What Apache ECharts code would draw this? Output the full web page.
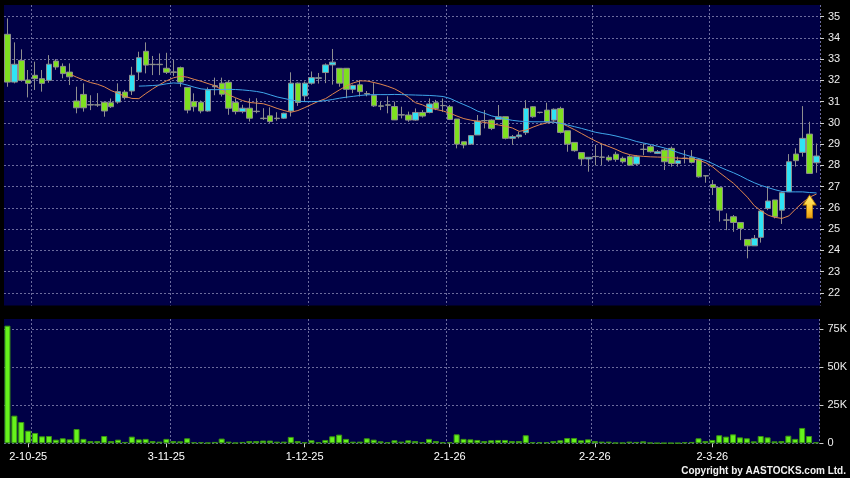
<!DOCTYPE html>
<html><head><meta charset="utf-8">
<script src="https://cdn.jsdelivr.net/npm/echarts@6/dist/echarts.min.js"></script>
<style>html,body{margin:0;padding:0;background:#000;}#c{width:850px;height:478px;}</style>
</head><body><div id="c"></div>
<script>
const dates = ['26-9-25','29-9-25','30-9-25',
'2-10-25','3-10-25','6-10-25','8-10-25','9-10-25','10-10-25','13-10-25','14-10-25','15-10-25','16-10-25','17-10-25','20-10-25','21-10-25','22-10-25','23-10-25','24-10-25','27-10-25','28-10-25','30-10-25','31-10-25',
'3-11-25','4-11-25','5-11-25','6-11-25','7-11-25','10-11-25','11-11-25','12-11-25','13-11-25','14-11-25','17-11-25','18-11-25','19-11-25','20-11-25','21-11-25','24-11-25','25-11-25','26-11-25','27-11-25','28-11-25',
'1-12-25','2-12-25','3-12-25','4-12-25','5-12-25','8-12-25','9-12-25','10-12-25','11-12-25','12-12-25','15-12-25','16-12-25','17-12-25','18-12-25','19-12-25','22-12-25','23-12-25','24-12-25','29-12-25','30-12-25','31-12-25',
'2-1-26','5-1-26','6-1-26','7-1-26','8-1-26','9-1-26','12-1-26','13-1-26','14-1-26','15-1-26','16-1-26','19-1-26','20-1-26','21-1-26','22-1-26','23-1-26','26-1-26','27-1-26','28-1-26','29-1-26','30-1-26',
'2-2-26','3-2-26','4-2-26','5-2-26','6-2-26','9-2-26','10-2-26','11-2-26','12-2-26','13-2-26','16-2-26','20-2-26','23-2-26','24-2-26','25-2-26','26-2-26','27-2-26',
'2-3-26','3-3-26','4-3-26','5-3-26','6-3-26','9-3-26','10-3-26','11-3-26','12-3-26','13-3-26','16-3-26','17-3-26','18-3-26','19-3-26','20-3-26','23-3-26'];

const tickLabels = ['2-10-25','3-11-25','1-12-25','2-1-26','2-2-26','2-3-26'];
const gridLineDates = ['3-10-25','4-11-25','2-12-25','2-1-26','2-2-26','2-3-26'];
const priceTicks = [22,23,24,25,26,27,28,29,30,31,32,33,34,35];
const volTicks = [0,25,50,75];

const opens = [34.17,31.92,32.94,32.02,32.24,32.08,32.00,32.91,32.66,32.39,
31.03,31.34,30.86,30.85,30.97,30.95,30.98,31.45,31.50,32.39,
33.37,32.76,32.76,32.57,32.40,32.60,31.67,31.00,30.97,30.56,
31.70,31.87,31.91,30.96,30.53,30.69,30.55,30.22,30.33,30.22,
30.22,30.56,31.87,31.27,31.87,32.10,32.37,32.73,32.57,32.57,
31.58,31.79,31.38,31.29,30.80,30.85,30.77,30.38,30.37,30.13,
30.49,30.49,30.95,30.82,30.76,30.18,29.11,29.00,29.43,30.11,
30.13,30.16,30.29,29.27,29.35,29.54,30.76,30.50,30.60,30.13,
30.68,29.63,29.08,28.60,28.30,28.42,28.39,28.38,28.52,28.33,
28.41,28.06,28.76,28.88,28.56,28.72,28.80,28.09,28.34,28.38,
28.28,27.51,27.10,26.96,25.43,25.58,25.31,24.51,24.21,24.61,
25.97,26.37,25.89,26.76,28.53,28.61,29.47,28.12];

const closes = [31.92,32.76,32.00,31.86,32.08,31.86,32.76,32.63,32.32,32.17,
30.71,30.71,30.84,30.84,30.56,30.76,31.47,31.19,32.24,33.07,
32.72,32.74,32.74,32.38,32.38,31.92,30.60,30.76,30.56,31.55,
31.75,31.35,30.69,30.53,30.69,30.22,30.53,30.20,30.06,30.20,
30.45,31.87,30.96,31.87,32.13,32.12,32.73,32.86,31.87,31.58,
31.76,31.47,31.36,30.80,30.78,30.83,30.14,30.37,30.13,30.49,
30.32,30.89,30.68,30.81,30.16,29.00,28.96,29.40,30.09,30.10,
29.74,30.29,29.27,29.35,29.43,30.68,30.29,30.49,30.05,30.64,
29.55,29.00,28.69,28.30,28.38,28.41,28.38,28.25,28.28,28.17,
28.01,28.41,28.75,28.64,28.64,28.17,28.09,28.22,28.33,28.14,
27.46,27.50,26.96,25.89,25.42,25.31,25.03,24.21,24.56,25.85,
26.32,25.58,26.71,28.17,28.22,29.27,27.62,28.44];

const lows = [31.70,31.86,31.94,31.20,31.55,31.47,31.89,32.50,32.10,31.78,
30.45,30.53,30.60,30.75,30.29,30.70,30.90,31.10,31.31,32.02,
32.33,32.25,32.25,32.30,32.20,31.70,30.45,30.53,30.45,30.53,
31.30,31.24,30.38,30.40,30.45,30.06,30.45,30.14,30.00,30.10,
30.18,30.30,30.80,31.00,31.80,31.85,31.87,31.80,31.70,31.16,
31.40,31.24,31.25,30.75,30.60,30.45,30.14,30.21,30.05,30.10,
30.25,30.45,30.60,30.52,30.13,28.80,28.80,28.96,29.43,29.74,
29.66,30.16,29.22,28.96,29.27,29.43,30.24,30.44,30.00,30.05,
29.50,28.64,28.64,28.00,27.70,28.00,28.01,28.17,28.17,28.09,
27.97,28.01,28.48,28.60,28.53,27.78,27.94,27.94,28.09,28.09,
27.42,27.18,26.60,25.35,24.95,24.87,24.48,23.62,24.21,24.36,
25.89,25.50,25.24,26.76,27.94,28.41,27.62,27.65];

const highs = [34.92,33.79,33.46,32.49,32.88,32.49,33.19,33.00,32.80,32.80,
31.70,31.86,31.30,31.40,31.00,31.15,31.86,31.55,32.64,33.35,
33.79,33.15,33.27,33.30,32.96,32.65,31.67,31.39,31.05,31.67,
32.13,32.13,32.02,31.16,30.85,31.16,31.16,30.69,30.73,30.50,
30.48,32.38,31.90,31.95,32.42,32.35,32.80,33.48,32.57,32.57,
31.80,32.02,31.50,31.87,31.00,31.25,31.00,30.76,30.53,30.68,
30.60,31.15,31.08,31.15,30.84,30.18,29.11,29.43,30.37,30.60,
30.16,30.84,30.29,29.43,29.58,31.07,30.79,30.50,30.95,30.68,
30.76,29.63,29.08,28.60,28.38,28.96,29.03,28.48,28.64,28.41,
28.48,28.48,29.03,28.96,28.72,28.80,28.88,28.41,28.72,28.72,
28.33,27.54,27.31,26.96,25.74,25.66,25.31,24.51,24.72,25.85,
27.02,26.37,26.76,28.53,28.80,30.79,30.05,29.03];

// volume in thousands of shares
const volumesK = [77.4,18.2,14.0,8.3,6.8,4.6,4.8,2.4,3.3,2.6,
9.4,2.9,1.5,1.5,4.8,1.5,2.4,0.9,4.4,2.6,
2.9,1.5,1.1,2.9,1.5,1.3,3.3,0.7,0.7,0.4,
0.9,3.1,1.1,0.4,0.9,1.5,1.5,1.8,1.8,1.1,
1.1,4.2,1.5,0.7,2.0,0.7,2.2,4.6,5.7,2.9,
1.1,1.1,3.3,2.4,1.3,0.7,2.0,1.1,2.0,1.5,
0.7,2.9,1.5,0.7,0.7,5.9,2.9,2.6,2.2,1.5,
2.0,2.2,2.2,1.5,1.5,5.3,0.7,0.7,0.7,1.5,
2.0,3.5,3.5,2.0,2.6,1.5,1.1,1.1,0.4,0.4,
1.1,0.9,1.3,0.4,0.2,0.2,0.2,0.2,0.7,0.9,
3.3,1.5,2.2,5.3,4.4,5.9,3.9,3.3,1.3,4.8,
3.9,1.3,1.5,5.0,2.9,10.1,4.8,0.7];

// 10-day average line (orange)
const ma10 = [null,null,null,null,null,null,null,null,null,
32.30,32.15,32.02,31.90,31.82,31.70,31.52,31.39,31.25,31.15,31.14,
31.38,31.60,31.80,31.98,32.12,32.20,32.15,32.05,31.96,31.85,
31.75,31.55,31.32,31.18,31.05,30.96,30.93,30.90,30.80,30.68,
30.58,30.50,30.58,30.72,30.87,31.02,31.14,31.35,31.55,31.74,
31.88,31.98,31.97,31.90,31.82,31.72,31.60,31.42,31.20,30.95,
30.85,30.70,30.63,30.56,30.45,30.32,30.20,30.13,30.07,30.02,
29.96,29.90,29.84,29.76,29.60,29.66,29.80,29.92,30.00,30.04,
30.00,29.84,29.68,29.50,29.32,29.15,29.00,28.88,28.75,28.60,
28.50,28.45,28.42,28.40,28.39,28.38,28.36,28.34,28.32,28.30,
28.24,28.12,27.92,27.65,27.40,27.15,26.83,26.50,26.10,25.85,
25.65,25.55,25.50,25.62,25.95,26.25,26.50,26.65];

// 20-day average line (blue)
const ma20 = [null,null,null,null,null,null,null,null,null,null,
null,null,null,null,null,null,null,null,null,
31.73,31.74,31.76,31.78,31.84,31.88,31.86,31.78,31.68,31.60,31.57,
31.56,31.57,31.58,31.57,31.55,31.52,31.48,31.42,31.32,31.22,
31.15,31.08,31.02,31.00,31.00,31.01,31.05,31.10,31.16,31.21,
31.25,31.29,31.32,31.33,31.33,31.33,31.34,31.33,31.32,31.31,
31.30,31.29,31.27,31.24,31.15,31.00,30.86,30.72,30.55,30.45,
30.33,30.25,30.18,30.12,30.08,30.06,30.05,30.05,30.05,30.03,
29.98,29.90,29.82,29.74,29.65,29.56,29.50,29.45,29.38,29.30,
29.22,29.12,29.05,28.98,28.90,28.82,28.72,28.60,28.50,28.40,
28.32,28.22,28.08,27.92,27.78,27.65,27.50,27.33,27.18,27.05,
26.95,26.85,26.77,26.75,26.75,26.75,26.72,26.70];

const chart = echarts.init(document.getElementById('c'), null, {renderer: 'canvas'});
const navy = '#000046';
const gridColor = '#6b6b9d';
const font = '"Liberation Sans", Arial, sans-serif';
const splitX = {show: true, interval: (i, v) => gridLineDates.includes(v),
  lineStyle: {color: gridColor, type: [2, 2], width: 1}};
const splitY = {show: true, lineStyle: {color: gridColor, type: [2, 2], width: 1}};

const option = {
  backgroundColor: '#000',
  animation: false,
  grid: [
    {left: 4, right: 30, top: 5, height: 300.5, show: true, backgroundColor: navy, borderWidth: 0},
    {left: 4, right: 30, top: 319, height: 124.3, show: true, backgroundColor: navy, borderWidth: 0}
  ],
  xAxis: [
    {type: 'category', gridIndex: 0, data: dates, boundaryGap: true,
     axisLine: {show: false}, axisTick: {show: false}, axisLabel: {show: false}, splitLine: splitX},
    {type: 'category', gridIndex: 1, data: dates, boundaryGap: true,
     axisLine: {show: false},
     axisTick: {show: true, alignWithLabel: true, interval: (i, v) => tickLabels.includes(v), length: 4,
       lineStyle: {color: '#cccccc'}},
     axisLabel: {interval: (i, v) => tickLabels.includes(v), color: '#ffffff', fontSize: 11, fontFamily: font, margin: 8},
     splitLine: splitX}
  ],
  yAxis: [
    {type: 'value', gridIndex: 0, position: 'right', min: 21.40, max: 35.55, scale: true,
     axisLine: {show: false},
     axisTick: {show: true, length: 4, customValues: priceTicks, lineStyle: {color: '#cccccc'}},
     axisLabel: {customValues: priceTicks, color: '#eeeeee', fontSize: 11, fontFamily: font, margin: 8},
     splitLine: splitY},
    {type: 'value', gridIndex: 1, position: 'right', min: 0, max: 81.8,
     axisLine: {show: false},
     axisTick: {show: true, length: 4, customValues: volTicks, lineStyle: {color: '#cccccc'}},
     axisLabel: {customValues: volTicks, color: '#eeeeee', fontSize: 11, fontFamily: font, margin: 8,
       formatter: v => (v === 0 ? '0' : v + 'K')},
     splitLine: splitY}
  ],
  series: [
    {type: 'candlestick', xAxisIndex: 0, yAxisIndex: 0, barWidth: 6,
     data: opens.map((o, i) => [o, closes[i], lows[i], highs[i]]),
     itemStyle: {color: '#2fe3f5', color0: '#7ee01f', borderColor: '#8e8e8e', borderColor0: '#8e8e8e', borderWidth: 1}},
    {type: 'line', xAxisIndex: 0, yAxisIndex: 0, data: ma10, symbol: 'none', smooth: false,
     lineStyle: {color: '#e0864e', width: 1},
     markPoint: {
       symbol: 'path://M6.5,0 L13,10 L9.5,10 L9.5,23 L3.5,23 L3.5,10 L0,10 Z',
       symbolSize: [13, 23], label: {show: false},
       itemStyle: {color: new echarts.graphic.LinearGradient(0, 0, 0, 1, [
         {offset: 0, color: '#fff07a'}, {offset: 0.6, color: '#ffc830'}, {offset: 1, color: '#e89a10'}]),
         borderColor: '#b87a00', borderWidth: 0.8},
       data: [{coord: [dates[116], 26.06]}]
     }},
    {type: 'line', xAxisIndex: 0, yAxisIndex: 0, data: ma20, symbol: 'none', smooth: false,
     lineStyle: {color: '#3fa6ea', width: 1}},
    {type: 'bar', xAxisIndex: 1, yAxisIndex: 1, data: volumesK, barWidth: 6,
     itemStyle: {color: '#66f21c', borderColor: '#3a9412', borderWidth: 1}}
  ],
  graphic: [
    {type: 'text', right: 4, top: 466, style: {text: 'Copyright by AASTOCKS.com Ltd.', fill: '#f2f2f2',
      font: 'bold 10px "Liberation Sans", Arial, sans-serif'}}
  ]
};
chart.setOption(option);
</script>
</body></html>
